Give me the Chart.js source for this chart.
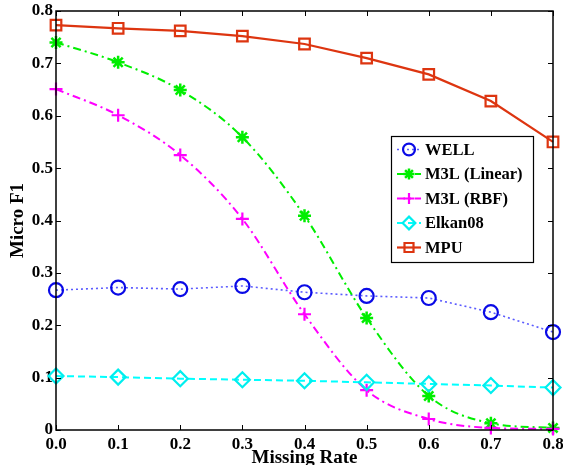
<!DOCTYPE html>
<html>
<head>
<meta charset="utf-8">
<script src="https://cdn.jsdelivr.net/npm/chart.js@4.4.1/dist/chart.umd.min.js"></script>
<style>
html,body{margin:0;padding:0;background:#fff;}
#wrap{width:563px;height:465px;position:relative;}
</style>
</head>
<body>
<div id="wrap"><canvas id="c" width="563" height="465"></canvas></div>
<script>
// ---- data ----
const missingRate = [0.0, 0.1, 0.2, 0.3, 0.4, 0.5, 0.6, 0.7, 0.8];
const well      = [0.267, 0.272, 0.269, 0.275, 0.263, 0.256, 0.252, 0.225, 0.187];
const m3lLinear = [0.740, 0.702, 0.649, 0.559, 0.409, 0.214, 0.065, 0.013, 0.004];
const m3lRbf    = [0.651, 0.601, 0.525, 0.403, 0.221, 0.076, 0.021, 0.004, 0.002];
const elkan08   = [0.103, 0.101, 0.098, 0.096, 0.094, 0.091, 0.088, 0.085, 0.081];
const mpu       = [0.773, 0.767, 0.762, 0.752, 0.737, 0.710, 0.679, 0.628, 0.550];
const seriesNames = ['WELL', 'M3L (Linear)', 'M3L (RBF)', 'Elkan08', 'MPU'];
const xTitle = 'Missing Rate';
const yTitle = 'Micro F1';

const FONT = "'Liberation Serif', 'Times New Roman', serif";
const pts = arr => arr.map((v, i) => ({x: missingRate[i], y: v}));

const datasets = [
  {label: seriesNames[0], data: pts(well), borderColor: '#5b5bff', borderWidth: 1.6, borderDash: [2, 3],
   pointStyle: 'circle', pointRadius: 7, pointBorderColor: '#0a0ae6', pointBorderWidth: 2.2, order: 5, tension: 0},
  {label: seriesNames[1], data: pts(m3lLinear), borderColor: '#00ee00', borderWidth: 2, borderDash: [8, 4, 2, 4],
   pointStyle: 'star', pointRadius: 6.5, pointBorderColor: '#00ee00', pointBorderWidth: 2.5, order: 4, cubicInterpolationMode: 'monotone'},
  {label: seriesNames[2], data: pts(m3lRbf), borderColor: '#ff00ff', borderWidth: 2, borderDash: [8, 4, 2, 4],
   pointStyle: 'cross', pointRadius: 6.5, pointBorderColor: '#ff00ff', pointBorderWidth: 2.2, order: 3, cubicInterpolationMode: 'monotone'},
  {label: seriesNames[3], data: pts(elkan08), borderColor: '#00ffff', borderWidth: 2, borderDash: [7, 4],
   pointStyle: 'rectRot', pointRadius: 7.5, pointBorderColor: '#00eeee', pointBorderWidth: 2.2, order: 2, tension: 0},
  {label: seriesNames[4], data: pts(mpu), borderColor: '#dd3510', borderWidth: 2.2, borderDash: [],
   pointStyle: 'rect', pointRadius: 7.5, pointBorderColor: '#dd3510', pointBorderWidth: 2.2, order: 1, tension: 0}
];
datasets.forEach(d => { d.pointBackgroundColor = 'rgba(0,0,0,0)'; d.fill = false; d.clip = false; d.pointHoverRadius = d.pointRadius; });

const framePlugin = {
  id: 'frame',
  afterDraw(chart) {
    const {ctx, chartArea: a, scales: {x, y}} = chart;
    ctx.save();
    ctx.strokeStyle = '#000';
    ctx.lineWidth = 1.5;
    ctx.setLineDash([]);
    ctx.strokeRect(a.left, a.top, a.right - a.left, a.bottom - a.top);
    ctx.lineWidth = 1;
    const tl = 5;
    x.ticks.forEach(t => {
      const px = Math.round(x.getPixelForValue(t.value)) + 0.5;
      ctx.beginPath();
      ctx.moveTo(px, a.bottom); ctx.lineTo(px, a.bottom - tl);
      ctx.moveTo(px, a.top); ctx.lineTo(px, a.top + tl);
      ctx.stroke();
    });
    y.ticks.forEach(t => {
      const py = Math.round(y.getPixelForValue(t.value)) + 0.5;
      ctx.beginPath();
      ctx.moveTo(a.left, py); ctx.lineTo(a.left + tl, py);
      ctx.moveTo(a.right, py); ctx.lineTo(a.right - tl, py);
      ctx.stroke();
    });
    // legend
    const bx = 391, by = 136, bw = 142, bh = 126;
    ctx.fillStyle = '#fff';
    ctx.fillRect(bx, by, bw, bh);
    ctx.lineWidth = 1.2;
    ctx.strokeStyle = '#000';
    ctx.strokeRect(bx + 0.5, by + 0.5, bw, bh);
    chart.data.datasets.forEach((d, i) => {
      const cy = 149.5 + i * 24.5;
      ctx.save();
      ctx.strokeStyle = d.borderColor;
      ctx.lineWidth = d.borderWidth;
      ctx.setLineDash(d.borderDash || []);
      ctx.beginPath();
      ctx.moveTo(397, cy); ctx.lineTo(421, cy);
      ctx.stroke();
      ctx.setLineDash([]);
      ctx.strokeStyle = d.pointBorderColor;
      ctx.fillStyle = 'rgba(0,0,0,0)';
      ctx.lineWidth = d.pointBorderWidth;
      Chart.helpers.drawPoint(ctx, {pointStyle: d.pointStyle, radius: d.pointRadius * 0.85, borderWidth: d.pointBorderWidth, rotation: 0}, 409, cy);
      ctx.restore();
      ctx.fillStyle = '#000';
      ctx.font = 'bold 16.5px ' + FONT;
      ctx.textBaseline = 'middle';
      ctx.textAlign = 'left';
      ctx.fillText(d.label, 425, cy + 1);
    });
    ctx.restore();
  }
};

new Chart(document.getElementById('c'), {
  type: 'line',
  data: {datasets},
  options: {
    responsive: false,
    animation: false,
    events: [],
    layout: {padding: {top: 11, right: 10, left: 0, bottom: 0}},
    plugins: {legend: {display: false}, tooltip: {enabled: false}},
    scales: {
      x: {
        type: 'linear', min: 0, max: 0.8,
        grid: {display: false, drawTicks: false},
        border: {display: false},
        ticks: {stepSize: 0.1, padding: 4, color: '#000', maxRotation: 0, autoSkip: false,
          font: {family: FONT, size: 17, weight: 'bold'},
          callback: v => Number(v).toFixed(1)},
        title: {display: true, text: xTitle, color: '#000', padding: {top: 0, bottom: -3},
          font: {family: FONT, size: 19, weight: 'bold', lineHeight: 1}},
        afterFit(s) { s.height = 35; s.paddingLeft = 0; s.paddingRight = 0; s.paddingTop = 0; s.paddingBottom = 0; }
      },
      y: {
        type: 'linear', min: 0, max: 0.8,
        grid: {display: false, drawTicks: false},
        border: {display: false},
        ticks: {stepSize: 0.1, padding: 3, color: '#000', autoSkip: false,
          font: {family: FONT, size: 17, weight: 'bold'},
          callback: v => (Math.abs(v) < 1e-9 ? '0' : Number(v).toFixed(1))},
        title: {display: true, text: yTitle, color: '#000', padding: {top: 9, bottom: 0},
          font: {family: FONT, size: 19, weight: 'bold', lineHeight: 1}},
        afterFit(s) { s.width = 56; s.paddingLeft = 0; s.paddingRight = 0; s.paddingTop = 0; s.paddingBottom = 0; }
      }
    }
  },
  plugins: [framePlugin]
});
</script>
</body>
</html>
